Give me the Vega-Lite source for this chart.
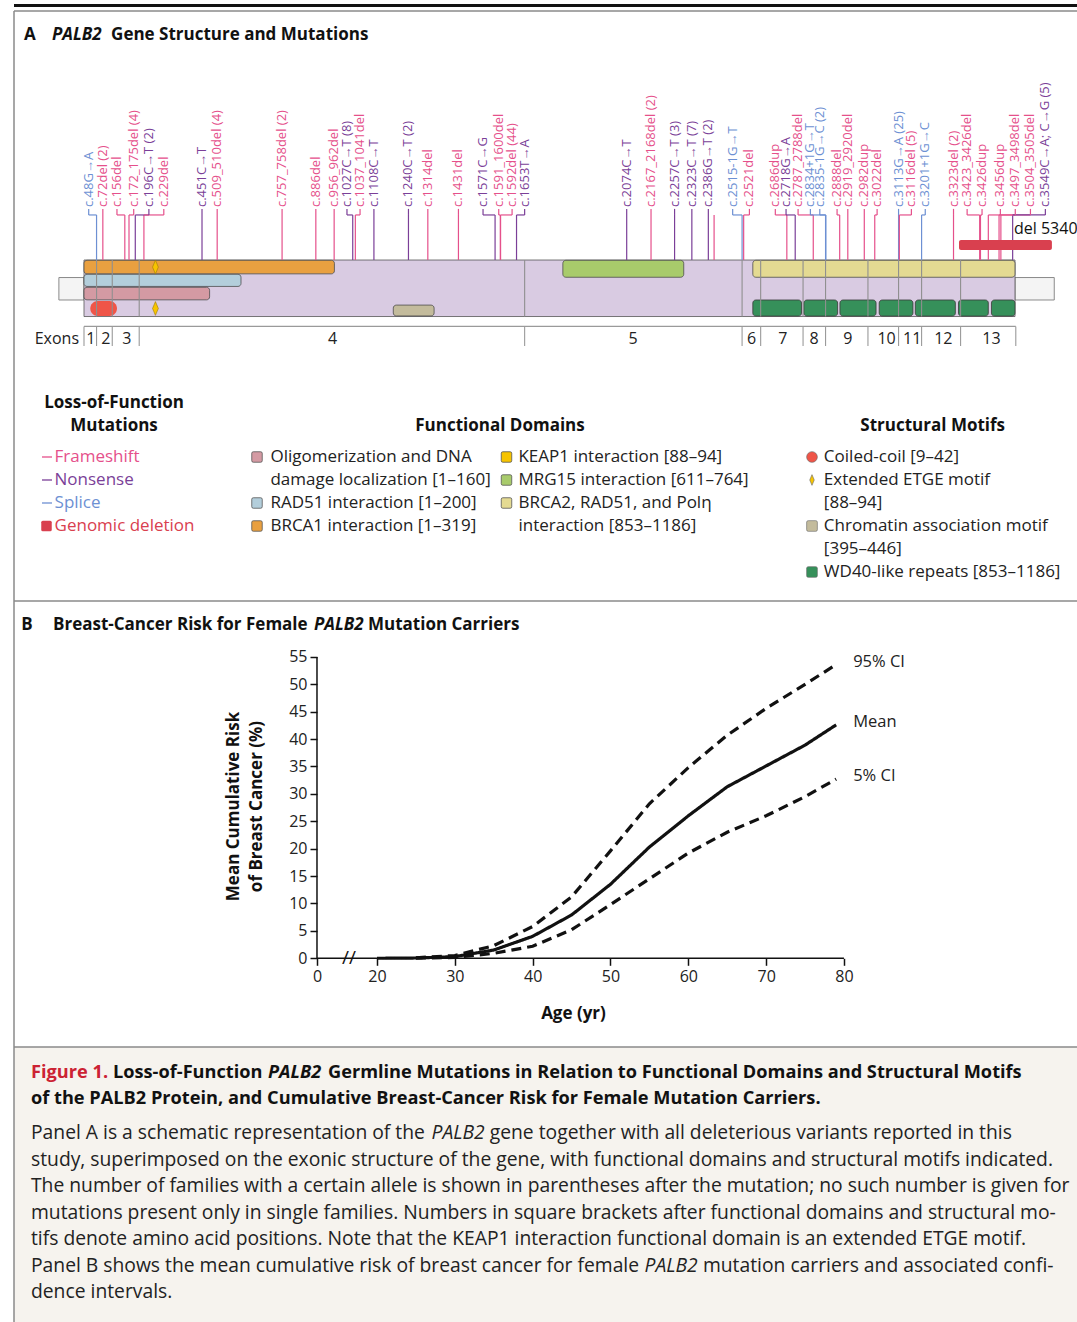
{
"$schema": "https://vega.github.io/schema/vega-lite/v6.json",
"padding": {"left": 12, "top": 0, "right": 0, "bottom": 0},
"background": "white",
"spacing": 0,
"bounds": "flush",
"config": {"font": "Open Sans", "view": {"stroke": null}},
"datasets": {
 "domains": [
  {"name":"BRCA1","start":0,"end":319,"track":"t1"},
  {"name":"RAD51","start":0,"end":200,"track":"t2"},
  {"name":"Oligomerization","start":0,"end":160,"track":"t3"},
  {"name":"MRG15","start":610,"end":764,"track":"top"},
  {"name":"BRCA2","start":852,"end":1186,"track":"top"},
  {"name":"Coiled-coil","start":8,"end":42,"track":"coil"},
  {"name":"Chromatin","start":394,"end":446,"track":"chrom"},
  {"name":"WD40","start":852,"end":914,"track":"wd40"},
  {"name":"WD40","start":917,"end":960,"track":"wd40"},
  {"name":"WD40","start":963,"end":1009,"track":"wd40"},
  {"name":"WD40","start":1013,"end":1056,"track":"wd40"},
  {"name":"WD40","start":1059,"end":1110,"track":"wd40"},
  {"name":"WD40","start":1114,"end":1152,"track":"wd40"},
  {"name":"WD40","start":1156,"end":1186,"track":"wd40"}
 ],
 "exonBounds": [{"c":0},{"c":48},{"c":108},{"c":211},{"c":1684},{"c":2515},{"c":2586},{"c":2748},{"c":2834},{"c":2996},{"c":3113},{"c":3201},{"c":3350},{"c":3561}],
 "exonLabels": [{"exon":"1","lab":26},{"exon":"2","lab":83},{"exon":"3","lab":164},{"exon":"4","lab":950},{"exon":"5","lab":2098},{"exon":"6","lab":2551},{"exon":"7","lab":2671},{"exon":"8","lab":2790},{"exon":"9","lab":2919},{"exon":"10","lab":3067},{"exon":"11","lab":3165},{"exon":"12","lab":3284},{"exon":"13","lab":3468}],
 "muts": [
  {"c":48,"lab":18,"label":"c.48G→A","type":"Splice"},
  {"c":72,"lab":72,"label":"c.72del (2)","type":"Frameshift"},
  {"c":156,"lab":126,"label":"c.156del","type":"Frameshift"},
  {"c":172,"lab":190,"label":"c.172_175del (4)","type":"Frameshift"},
  {"c":196,"lab":248,"label":"c.196C→T (2)","type":"Nonsense"},
  {"c":229,"lab":305,"label":"c.229del","type":"Frameshift"},
  {"c":451,"lab":451,"label":"c.451C→T","type":"Nonsense"},
  {"c":509,"lab":509,"label":"c.509_510del (4)","type":"Frameshift"},
  {"c":757,"lab":757,"label":"c.757_758del (2)","type":"Frameshift"},
  {"c":886,"lab":886,"label":"c.886del","type":"Frameshift"},
  {"c":956,"lab":956,"label":"c.956_962del","type":"Frameshift"},
  {"c":1027,"lab":1005,"label":"c.1027C→T (8)","type":"Nonsense"},
  {"c":1037,"lab":1055,"label":"c.1037_1041del","type":"Frameshift"},
  {"c":1108,"lab":1108,"label":"c.1108C→T","type":"Nonsense"},
  {"c":1240,"lab":1240,"label":"c.1240C→T (2)","type":"Nonsense"},
  {"c":1314,"lab":1314,"label":"c.1314del","type":"Frameshift"},
  {"c":1431,"lab":1431,"label":"c.1431del","type":"Frameshift"},
  {"c":1571,"lab":1525,"label":"c.1571C→G","type":"Nonsense"},
  {"c":1591,"lab":1585,"label":"c.1591_1600del","type":"Frameshift"},
  {"c":1592,"lab":1636,"label":"c.1592del (44)","type":"Frameshift"},
  {"c":1653,"lab":1684,"label":"c.1653T→A","type":"Nonsense"},
  {"c":2074,"lab":2074,"label":"c.2074C→T","type":"Nonsense"},
  {"c":2167,"lab":2167,"label":"c.2167_2168del (2)","type":"Frameshift"},
  {"c":2257,"lab":2257,"label":"c.2257C→T (3)","type":"Nonsense"},
  {"c":2323,"lab":2323,"label":"c.2323C→T (7)","type":"Nonsense"},
  {"c":2386,"lab":2386,"label":"c.2386G→T (2)","type":"Nonsense"},
  {"c":2408,"lab":2408,"label":"","type":"Frameshift"},
  {"c":2515,"lab":2479,"label":"c.2515-1G→T","type":"Splice"},
  {"c":2521,"lab":2543,"label":"c.2521del","type":"Frameshift"},
  {"c":2686,"lab":2642,"label":"c.2686dup","type":"Frameshift"},
  {"c":2718,"lab":2683,"label":"c.2718G→A","type":"Nonsense"},
  {"c":2787,"lab":2729,"label":"c.2787_2788del","type":"Frameshift"},
  {"c":2834,"lab":2776,"label":"c.2834+1G→T","type":"Splice"},
  {"c":2835,"lab":2812,"label":"c.2835-1G→C (2)","type":"Splice"},
  {"c":2888,"lab":2878,"label":"c.2888del","type":"Frameshift"},
  {"c":2919,"lab":2919,"label":"c.2919_2920del","type":"Frameshift"},
  {"c":2982,"lab":2982,"label":"c.2982dup","type":"Frameshift"},
  {"c":3022,"lab":3031,"label":"c.3022del","type":"Frameshift"},
  {"c":3113,"lab":3113,"label":"c.3113G→A (25)","type":"Splice"},
  {"c":3116,"lab":3162,"label":"c.3116del (5)","type":"Frameshift"},
  {"c":3201,"lab":3215,"label":"c.3201+1G→C","type":"Splice"},
  {"c":3323,"lab":3323,"label":"c.3323del (2)","type":"Frameshift"},
  {"c":3423,"lab":3375,"label":"c.3423_3426del","type":"Frameshift"},
  {"c":3426,"lab":3432,"label":"c.3426dup","type":"Frameshift"},
  {"c":3456,"lab":3502,"label":"c.3456dup","type":"Frameshift"},
  {"c":3497,"lab":3559,"label":"c.3497_3498del","type":"Frameshift"},
  {"c":3504,"lab":3617,"label":"c.3504_3505del","type":"Frameshift"},
  {"c":3549,"lab":3674,"label":"c.3549C→A; C→G (5)","type":"Nonsense"}
 ],
 "legend": [
  {"g":"hlof","line":-2,"text":"Loss-of-Function"},
  {"g":"hlof","line":-1,"text":"Mutations"},
  {"g":"hfd","line":-1,"text":"Functional Domains"},
  {"g":"hsm","line":-1,"text":"Structural Motifs"},
  {"g":"lof","line":0,"text":"Frameshift","item":"Frameshift"},
  {"g":"lof","line":1,"text":"Nonsense","item":"Nonsense"},
  {"g":"lof","line":2,"text":"Splice","item":"Splice"},
  {"g":"lof","line":3,"text":"Genomic deletion","item":"Genomic deletion"},
  {"g":"fd1","line":0,"text":"Oligomerization and DNA","item":"Oligomerization"},
  {"g":"fd1","line":1,"text":"damage localization [1–160]"},
  {"g":"fd1","line":2,"text":"RAD51 interaction [1–200]","item":"RAD51"},
  {"g":"fd1","line":3,"text":"BRCA1 interaction [1–319]","item":"BRCA1"},
  {"g":"fd2","line":0,"text":"KEAP1 interaction [88–94]","item":"KEAP1"},
  {"g":"fd2","line":1,"text":"MRG15 interaction [611–764]","item":"MRG15"},
  {"g":"fd2","line":2,"text":"BRCA2, RAD51, and Polη","item":"BRCA2"},
  {"g":"fd2","line":3,"text":"interaction  [853–1186]"},
  {"g":"sm","line":0,"text":"Coiled-coil [9–42]","item":"Coiled-coil"},
  {"g":"sm","line":1,"text":"Extended ETGE motif","item":"ETGE"},
  {"g":"sm","line":2,"text":"[88–94]"},
  {"g":"sm","line":3,"text":"Chromatin association motif","item":"Chromatin"},
  {"g":"sm","line":4,"text":"[395–446]"},
  {"g":"sm","line":5,"text":"WD40-like repeats [853–1186]","item":"WD40"}
 ],
 "risk": [
  {"age":20,"value":0,"series":"Mean"},{"age":25,"value":0.05,"series":"Mean"},{"age":30,"value":0.3,"series":"Mean"},{"age":35,"value":1.5,"series":"Mean"},{"age":40,"value":4.0,"series":"Mean"},{"age":45,"value":7.9,"series":"Mean"},{"age":50,"value":13.5,"series":"Mean"},{"age":55,"value":20.3,"series":"Mean"},{"age":60,"value":26.0,"series":"Mean"},{"age":65,"value":31.3,"series":"Mean"},{"age":70,"value":35.1,"series":"Mean"},{"age":75,"value":38.9,"series":"Mean"},{"age":79,"value":42.6,"series":"Mean"},
  {"age":25,"value":0.1,"series":"95% CI"},{"age":30,"value":0.5,"series":"95% CI"},{"age":35,"value":2.3,"series":"95% CI"},{"age":40,"value":5.8,"series":"95% CI"},{"age":45,"value":11.2,"series":"95% CI"},{"age":50,"value":19.6,"series":"95% CI"},{"age":55,"value":28.2,"series":"95% CI"},{"age":60,"value":34.8,"series":"95% CI"},{"age":65,"value":40.7,"series":"95% CI"},{"age":70,"value":45.6,"series":"95% CI"},{"age":75,"value":50.0,"series":"95% CI"},{"age":79,"value":53.6,"series":"95% CI"},
  {"age":25,"value":0.02,"series":"5% CI"},{"age":30,"value":0.15,"series":"5% CI"},{"age":35,"value":0.9,"series":"5% CI"},{"age":40,"value":2.2,"series":"5% CI"},{"age":45,"value":5.2,"series":"5% CI"},{"age":50,"value":9.8,"series":"5% CI"},{"age":55,"value":14.5,"series":"5% CI"},{"age":60,"value":19.2,"series":"5% CI"},{"age":65,"value":23.0,"series":"5% CI"},{"age":70,"value":26.0,"series":"5% CI"},{"age":75,"value":29.5,"series":"5% CI"},{"age":79,"value":32.7,"series":"5% CI"}
 ],
 "caption": [
  {"n":2,"part":"a","text":"Panel A is a schematic representation of the"},
  {"n":2,"part":"b","text":"PALB2"},
  {"n":2,"part":"c","text":"gene together with all deleterious variants reported in this"},
  {"n":3,"part":"a","text":"study, superimposed on the exonic structure of the gene, with functional domains and structural motifs indicated."},
  {"n":4,"part":"a","text":"The number of families with a certain allele is shown in parentheses after the mutation; no such number is given for"},
  {"n":5,"part":"a","text":"mutations present only in single families. Numbers in square brackets after functional domains and structural mo-"},
  {"n":6,"part":"a","text":"tifs denote amino acid positions. Note that the KEAP1 interaction functional domain is an extended ETGE motif."},
  {"n":7,"part":"a","text":"Panel B shows the mean cumulative risk of breast cancer for female"},
  {"n":7,"part":"b","text":"PALB2"},
  {"n":7,"part":"c","text":"mutation carriers and associated confi-"},
  {"n":8,"part":"a","text":"dence intervals."}
 ]
},
"vconcat": [
 {"width":1065,"height":11,"data":{"values":[{}]},"mark":{"type":"rule","color":"#111","strokeWidth":3},"encoding":{"y":{"datum":0.5,"type":"quantitative","scale":{"domain":[0,1],"nice":false,"zero":false},"axis":null}}},
 {"width":1065,"height":590,
  "resolve":{"scale":{"x":"independent","y":"independent"}},
  "layer":[
   {"layer":[
    {"data":{"values":[{}]},"mark":{"type":"rule","color":"#8a8a8a","strokeWidth":1.5},"encoding":{"x":{"datum":-89.17,"type":"quantitative","scale":{"domain":[-89.17,1267.52],"nice":false,"zero":false},"axis":null}}},
    {"data":{"values":[{}]},"mark":{"type":"rule","color":"#8a8a8a","strokeWidth":1.5},"encoding":{"y":{"datum":21.63,"type":"quantitative","scale":{"domain":[-20.14,21.63],"nice":false,"zero":false},"axis":null}}},
    {"data":{"values":[{"start":-32,"end":0},{"start":1186,"end":1236}]},"mark":{"type":"rect","fill":"#f4f4f4","stroke":"#8a8a8a","strokeWidth":1},"encoding":{"x":{"field":"start","type":"quantitative","scale":{"domain":[-89.17,1267.52],"nice":false,"zero":false},"axis":null},"x2":{"field":"end"},"y":{"datum":1.17,"type":"quantitative","scale":{"domain":[-20.14,21.63],"nice":false,"zero":false},"axis":null},"y2":{"datum":2.76}}},
    {"data":{"values":[{"start":0,"end":1186}]},"mark":{"type":"rect","fill":"#d9cbe2","stroke":"#555","strokeWidth":0.8},"encoding":{"x":{"field":"start","type":"quantitative","scale":{"domain":[-89.17,1267.52],"nice":false,"zero":false},"axis":null},"x2":{"field":"end"},"y":{"datum":0,"type":"quantitative","scale":{"domain":[-20.14,21.63],"nice":false,"zero":false},"axis":null},"y2":{"datum":4}}},
    {"data":{"name":"domains"},"transform":[{"filter":"datum.track == 'top'"}],"mark":{"type":"rect","stroke":"#4d4d4d","strokeWidth":0.8,"cornerRadius":3},"encoding":{"x":{"field":"start","type":"quantitative","scale":{"domain":[-89.17,1267.52],"nice":false,"zero":false},"axis":null},"x2":{"field":"end"},"y":{"datum":2.78,"type":"quantitative","scale":{"domain":[-20.14,21.63],"nice":false,"zero":false},"axis":null},"y2":{"datum":3.98},"color":{"field":"name","type":"nominal","scale":{"domain":["Frameshift","Nonsense","Splice","Genomic deletion","Oligomerization","RAD51","BRCA1","KEAP1","MRG15","BRCA2","Coiled-coil","ETGE","Chromatin","WD40"],"range":["#e5508b","#7b3f98","#6d90d3","#d9404f","#d49aa3","#b3cedb","#e9a040","#f7c400","#a8cb6b","#e4da92","#ef5548","#f7c400","#c3bb9c","#36905a"]},"legend":null}}},
    {"data":{"name":"domains"},"transform":[{"filter":"datum.track == 't1'"}],"mark":{"type":"rect","stroke":"#4d4d4d","strokeWidth":0.8,"cornerRadius":3},"encoding":{"x":{"field":"start","type":"quantitative","scale":{"domain":[-89.17,1267.52],"nice":false,"zero":false},"axis":null},"x2":{"field":"end"},"y":{"datum":3.02,"type":"quantitative","scale":{"domain":[-20.14,21.63],"nice":false,"zero":false},"axis":null},"y2":{"datum":3.98},"color":{"field":"name","type":"nominal","scale":{"domain":["Frameshift","Nonsense","Splice","Genomic deletion","Oligomerization","RAD51","BRCA1","KEAP1","MRG15","BRCA2","Coiled-coil","ETGE","Chromatin","WD40"],"range":["#e5508b","#7b3f98","#6d90d3","#d9404f","#d49aa3","#b3cedb","#e9a040","#f7c400","#a8cb6b","#e4da92","#ef5548","#f7c400","#c3bb9c","#36905a"]},"legend":null}}},
    {"data":{"name":"domains"},"transform":[{"filter":"datum.track == 't2'"}],"mark":{"type":"rect","stroke":"#4d4d4d","strokeWidth":0.8,"cornerRadius":3},"encoding":{"x":{"field":"start","type":"quantitative","scale":{"domain":[-89.17,1267.52],"nice":false,"zero":false},"axis":null},"x2":{"field":"end"},"y":{"datum":2.13,"type":"quantitative","scale":{"domain":[-20.14,21.63],"nice":false,"zero":false},"axis":null},"y2":{"datum":2.99},"color":{"field":"name","type":"nominal","scale":{"domain":["Frameshift","Nonsense","Splice","Genomic deletion","Oligomerization","RAD51","BRCA1","KEAP1","MRG15","BRCA2","Coiled-coil","ETGE","Chromatin","WD40"],"range":["#e5508b","#7b3f98","#6d90d3","#d9404f","#d49aa3","#b3cedb","#e9a040","#f7c400","#a8cb6b","#e4da92","#ef5548","#f7c400","#c3bb9c","#36905a"]},"legend":null}}},
    {"data":{"name":"domains"},"transform":[{"filter":"datum.track == 't3'"}],"mark":{"type":"rect","stroke":"#4d4d4d","strokeWidth":0.8,"cornerRadius":3},"encoding":{"x":{"field":"start","type":"quantitative","scale":{"domain":[-89.17,1267.52],"nice":false,"zero":false},"axis":null},"x2":{"field":"end"},"y":{"datum":1.18,"type":"quantitative","scale":{"domain":[-20.14,21.63],"nice":false,"zero":false},"axis":null},"y2":{"datum":2.07},"color":{"field":"name","type":"nominal","scale":{"domain":["Frameshift","Nonsense","Splice","Genomic deletion","Oligomerization","RAD51","BRCA1","KEAP1","MRG15","BRCA2","Coiled-coil","ETGE","Chromatin","WD40"],"range":["#e5508b","#7b3f98","#6d90d3","#d9404f","#d49aa3","#b3cedb","#e9a040","#f7c400","#a8cb6b","#e4da92","#ef5548","#f7c400","#c3bb9c","#36905a"]},"legend":null}}},
    {"data":{"name":"domains"},"transform":[{"filter":"datum.track == 'chrom'"}],"mark":{"type":"rect","stroke":"#4d4d4d","strokeWidth":0.8,"cornerRadius":3},"encoding":{"x":{"field":"start","type":"quantitative","scale":{"domain":[-89.17,1267.52],"nice":false,"zero":false},"axis":null},"x2":{"field":"end"},"y":{"datum":0.04,"type":"quantitative","scale":{"domain":[-20.14,21.63],"nice":false,"zero":false},"axis":null},"y2":{"datum":0.81},"color":{"field":"name","type":"nominal","scale":{"domain":["Frameshift","Nonsense","Splice","Genomic deletion","Oligomerization","RAD51","BRCA1","KEAP1","MRG15","BRCA2","Coiled-coil","ETGE","Chromatin","WD40"],"range":["#e5508b","#7b3f98","#6d90d3","#d9404f","#d49aa3","#b3cedb","#e9a040","#f7c400","#a8cb6b","#e4da92","#ef5548","#f7c400","#c3bb9c","#36905a"]},"legend":null}}},
    {"data":{"name":"domains"},"transform":[{"filter":"datum.track == 'wd40'"}],"mark":{"type":"rect","stroke":"#3a3a3a","strokeWidth":0.8,"cornerRadius":3},"encoding":{"x":{"field":"start","type":"quantitative","scale":{"domain":[-89.17,1267.52],"nice":false,"zero":false},"axis":null},"x2":{"field":"end"},"y":{"datum":0.03,"type":"quantitative","scale":{"domain":[-20.14,21.63],"nice":false,"zero":false},"axis":null},"y2":{"datum":1.17},"color":{"field":"name","type":"nominal","scale":{"domain":["Frameshift","Nonsense","Splice","Genomic deletion","Oligomerization","RAD51","BRCA1","KEAP1","MRG15","BRCA2","Coiled-coil","ETGE","Chromatin","WD40"],"range":["#e5508b","#7b3f98","#6d90d3","#d9404f","#d49aa3","#b3cedb","#e9a040","#f7c400","#a8cb6b","#e4da92","#ef5548","#f7c400","#c3bb9c","#36905a"]},"legend":null}}},
    {"data":{"name":"domains"},"transform":[{"filter":"datum.track == 'coil'"}],"mark":{"type":"rect","cornerRadius":7.5},"encoding":{"x":{"field":"start","type":"quantitative","scale":{"domain":[-89.17,1267.52],"nice":false,"zero":false},"axis":null},"x2":{"field":"end"},"y":{"datum":0.04,"type":"quantitative","scale":{"domain":[-20.14,21.63],"nice":false,"zero":false},"axis":null},"y2":{"datum":1.1},"color":{"field":"name","type":"nominal","scale":{"domain":["Frameshift","Nonsense","Splice","Genomic deletion","Oligomerization","RAD51","BRCA1","KEAP1","MRG15","BRCA2","Coiled-coil","ETGE","Chromatin","WD40"],"range":["#e5508b","#7b3f98","#6d90d3","#d9404f","#d49aa3","#b3cedb","#e9a040","#f7c400","#a8cb6b","#e4da92","#ef5548","#f7c400","#c3bb9c","#36905a"]},"legend":null}}},
    {"data":{"values":[{"start":91,"name":"ETGE"}]},"mark":{"type":"point","shape":"M0,-1L0.42,0L0,1L-0.42,0Z","filled":true,"size":190,"stroke":"#a07c00","strokeWidth":0.6,"opacity":1},"encoding":{"x":{"field":"start","type":"quantitative","scale":{"domain":[-89.17,1267.52],"nice":false,"zero":false},"axis":null},"y":{"datum":3.5,"type":"quantitative","scale":{"domain":[-20.14,21.63],"nice":false,"zero":false},"axis":null},"color":{"field":"name","type":"nominal","scale":{"domain":["Frameshift","Nonsense","Splice","Genomic deletion","Oligomerization","RAD51","BRCA1","KEAP1","MRG15","BRCA2","Coiled-coil","ETGE","Chromatin","WD40"],"range":["#e5508b","#7b3f98","#6d90d3","#d9404f","#d49aa3","#b3cedb","#e9a040","#f7c400","#a8cb6b","#e4da92","#ef5548","#f7c400","#c3bb9c","#36905a"]},"legend":null}}},
    {"data":{"values":[{"start":91,"name":"ETGE"}]},"mark":{"type":"point","shape":"M0,-1L0.42,0L0,1L-0.42,0Z","filled":true,"size":190,"stroke":"#a07c00","strokeWidth":0.6,"opacity":1},"encoding":{"x":{"field":"start","type":"quantitative","scale":{"domain":[-89.17,1267.52],"nice":false,"zero":false},"axis":null},"y":{"datum":0.57,"type":"quantitative","scale":{"domain":[-20.14,21.63],"nice":false,"zero":false},"axis":null},"color":{"field":"name","type":"nominal","scale":{"domain":["Frameshift","Nonsense","Splice","Genomic deletion","Oligomerization","RAD51","BRCA1","KEAP1","MRG15","BRCA2","Coiled-coil","ETGE","Chromatin","WD40"],"range":["#e5508b","#7b3f98","#6d90d3","#d9404f","#d49aa3","#b3cedb","#e9a040","#f7c400","#a8cb6b","#e4da92","#ef5548","#f7c400","#c3bb9c","#36905a"]},"legend":null}}},
    {"data":{"values":[{}]},"mark":{"type":"text","text":"A","fontSize":17,"fontWeight":"bold","align":"left","baseline":"middle","color":"#111"},"encoding":{"x":{"datum":-76.4,"type":"quantitative","scale":{"domain":[-89.17,1267.52],"nice":false,"zero":false},"axis":null},"y":{"datum":19.93,"type":"quantitative","scale":{"domain":[-20.14,21.63],"nice":false,"zero":false},"axis":null}}},
    {"data":{"values":[{}]},"mark":{"type":"text","text":"PALB2","fontSize":17,"fontWeight":"bold","fontStyle":"italic","align":"left","baseline":"middle","color":"#111"},"encoding":{"x":{"datum":-40.8,"type":"quantitative","scale":{"domain":[-89.17,1267.52],"nice":false,"zero":false},"axis":null},"y":{"datum":19.93,"type":"quantitative","scale":{"domain":[-20.14,21.63],"nice":false,"zero":false},"axis":null}}},
    {"data":{"values":[{}]},"mark":{"type":"text","text":"Gene Structure and Mutations","fontSize":17,"fontWeight":"bold","align":"left","baseline":"middle","color":"#111"},"encoding":{"x":{"datum":34.5,"type":"quantitative","scale":{"domain":[-89.17,1267.52],"nice":false,"zero":false},"axis":null},"y":{"datum":19.93,"type":"quantitative","scale":{"domain":[-20.14,21.63],"nice":false,"zero":false},"axis":null}}}
   ]},
   {"layer":[
    {"data":{"name":"exonBounds"},"transform":[{"filter":"datum.c > 0 && datum.c < 3561"}],"mark":{"type":"rule","color":"#8f8f8f","strokeWidth":1.1},"encoding":{"x":{"field":"c","type":"quantitative","scale":{"domain":[-267.5,3802.55],"nice":false,"zero":false},"axis":null},"y":{"datum":0,"type":"quantitative","scale":{"domain":[-20.14,21.63],"nice":false,"zero":false},"axis":null},"y2":{"datum":4}}},
    {"data":{"values":[{"a":0,"b":3561}]},"mark":{"type":"rule","color":"#9a9a9a","strokeWidth":1.1},"encoding":{"x":{"field":"a","type":"quantitative","scale":{"domain":[-267.5,3802.55],"nice":false,"zero":false},"axis":null},"x2":{"field":"b"},"y":{"datum":-0.7,"type":"quantitative","scale":{"domain":[-20.14,21.63],"nice":false,"zero":false},"axis":null}}},
    {"data":{"name":"exonBounds"},"mark":{"type":"rule","color":"#9a9a9a","strokeWidth":1.1},"encoding":{"x":{"field":"c","type":"quantitative","scale":{"domain":[-267.5,3802.55],"nice":false,"zero":false},"axis":null},"y":{"datum":-0.7,"type":"quantitative","scale":{"domain":[-20.14,21.63],"nice":false,"zero":false},"axis":null},"y2":{"datum":-2.09}}},
    {"data":{"name":"exonLabels"},"mark":{"type":"text","fontSize":16,"color":"#222","baseline":"middle","align":"center"},"encoding":{"x":{"field":"lab","type":"quantitative","scale":{"domain":[-267.5,3802.55],"nice":false,"zero":false},"axis":null},"y":{"datum":-1.58,"type":"quantitative","scale":{"domain":[-20.14,21.63],"nice":false,"zero":false},"axis":null},"text":{"field":"exon"}}},
    {"data":{"values":[{}]},"mark":{"type":"text","text":"Exons","fontSize":16,"color":"#222","baseline":"middle","align":"right"},"encoding":{"x":{"datum":-19,"type":"quantitative","scale":{"domain":[-267.5,3802.55],"nice":false,"zero":false},"axis":null},"y":{"datum":-1.58,"type":"quantitative","scale":{"domain":[-20.14,21.63],"nice":false,"zero":false},"axis":null}}},
    {"data":{"name":"muts"},"mark":{"type":"rule","strokeWidth":1.2},"encoding":{"x":{"field":"c","type":"quantitative","scale":{"domain":[-267.5,3802.55],"nice":false,"zero":false},"axis":null},"y":{"datum":4,"type":"quantitative","scale":{"domain":[-20.14,21.63],"nice":false,"zero":false},"axis":null},"y2":{"datum":7.19},"color":{"field":"type","type":"nominal","scale":{"domain":["Frameshift","Nonsense","Splice","Genomic deletion","Oligomerization","RAD51","BRCA1","KEAP1","MRG15","BRCA2","Coiled-coil","ETGE","Chromatin","WD40"],"range":["#e5508b","#7b3f98","#6d90d3","#d9404f","#d49aa3","#b3cedb","#e9a040","#f7c400","#a8cb6b","#e4da92","#ef5548","#f7c400","#c3bb9c","#36905a"]},"legend":null}}},
    {"data":{"name":"muts"},"mark":{"type":"rule","strokeWidth":1.2},"encoding":{"x":{"field":"c","type":"quantitative","scale":{"domain":[-267.5,3802.55],"nice":false,"zero":false},"axis":null},"x2":{"field":"lab"},"y":{"datum":7.19,"type":"quantitative","scale":{"domain":[-20.14,21.63],"nice":false,"zero":false},"axis":null},"color":{"field":"type","type":"nominal","scale":{"domain":["Frameshift","Nonsense","Splice","Genomic deletion","Oligomerization","RAD51","BRCA1","KEAP1","MRG15","BRCA2","Coiled-coil","ETGE","Chromatin","WD40"],"range":["#e5508b","#7b3f98","#6d90d3","#d9404f","#d49aa3","#b3cedb","#e9a040","#f7c400","#a8cb6b","#e4da92","#ef5548","#f7c400","#c3bb9c","#36905a"]},"legend":null}}},
    {"data":{"name":"muts"},"transform":[{"filter":"datum.label != ''"}],"mark":{"type":"rule","strokeWidth":1.2},"encoding":{"x":{"field":"lab","type":"quantitative","scale":{"domain":[-267.5,3802.55],"nice":false,"zero":false},"axis":null},"y":{"datum":7.19,"type":"quantitative","scale":{"domain":[-20.14,21.63],"nice":false,"zero":false},"axis":null},"y2":{"datum":7.62},"color":{"field":"type","type":"nominal","scale":{"domain":["Frameshift","Nonsense","Splice","Genomic deletion","Oligomerization","RAD51","BRCA1","KEAP1","MRG15","BRCA2","Coiled-coil","ETGE","Chromatin","WD40"],"range":["#e5508b","#7b3f98","#6d90d3","#d9404f","#d49aa3","#b3cedb","#e9a040","#f7c400","#a8cb6b","#e4da92","#ef5548","#f7c400","#c3bb9c","#36905a"]},"legend":null}}},
    {"data":{"name":"muts"},"transform":[{"filter":"datum.label != ''"}],"mark":{"type":"text","angle":270,"align":"left","baseline":"middle","fontSize":13},"encoding":{"x":{"field":"lab","type":"quantitative","scale":{"domain":[-267.5,3802.55],"nice":false,"zero":false},"axis":null},"y":{"datum":7.75,"type":"quantitative","scale":{"domain":[-20.14,21.63],"nice":false,"zero":false},"axis":null},"text":{"field":"label"},"color":{"field":"type","type":"nominal","scale":{"domain":["Frameshift","Nonsense","Splice","Genomic deletion","Oligomerization","RAD51","BRCA1","KEAP1","MRG15","BRCA2","Coiled-coil","ETGE","Chromatin","WD40"],"range":["#e5508b","#7b3f98","#6d90d3","#d9404f","#d49aa3","#b3cedb","#e9a040","#f7c400","#a8cb6b","#e4da92","#ef5548","#f7c400","#c3bb9c","#36905a"]},"legend":null}}},
    {"data":{"values":[{"start":3344,"end":3699,"type":"Genomic deletion"}]},"mark":{"type":"rect","cornerRadius":2},"encoding":{"x":{"field":"start","type":"quantitative","scale":{"domain":[-267.5,3802.55],"nice":false,"zero":false},"axis":null},"x2":{"field":"end"},"y":{"datum":4.71,"type":"quantitative","scale":{"domain":[-20.14,21.63],"nice":false,"zero":false},"axis":null},"y2":{"datum":5.42},"color":{"field":"type","type":"nominal","scale":{"domain":["Frameshift","Nonsense","Splice","Genomic deletion","Oligomerization","RAD51","BRCA1","KEAP1","MRG15","BRCA2","Coiled-coil","ETGE","Chromatin","WD40"],"range":["#e5508b","#7b3f98","#6d90d3","#d9404f","#d49aa3","#b3cedb","#e9a040","#f7c400","#a8cb6b","#e4da92","#ef5548","#f7c400","#c3bb9c","#36905a"]},"legend":null}}},
    {"data":{"values":[{}]},"mark":{"type":"text","text":"del 5340","fontSize":16,"align":"left","baseline":"middle","color":"#111"},"encoding":{"x":{"datum":3554,"type":"quantitative","scale":{"domain":[-267.5,3802.55],"nice":false,"zero":false},"axis":null},"y":{"datum":6.2,"type":"quantitative","scale":{"domain":[-20.14,21.63],"nice":false,"zero":false},"axis":null}}}
   ]},
   {"data":{"name":"legend"},
    "layer":[
    {"transform":[{"filter":"datum.g == 'hlof'"}],"mark":{"type":"text","fontSize":17,"fontWeight":"bold","align":"center","baseline":"middle","dy":-8,"color":"#111"},"encoding":{"x":{"datum":38.22,"type":"quantitative","scale":{"domain":[-89.17,1267.52],"nice":false,"zero":false},"axis":null},"y":{"field":"line","type":"quantitative","scale":{"domain":[-19.391,6.261],"nice":false,"zero":false,"reverse":true},"axis":null},"text":{"field":"text"}}},
    {"transform":[{"filter":"datum.g == 'hfd'"}],"mark":{"type":"text","fontSize":17,"fontWeight":"bold","align":"center","baseline":"middle","dy":-8,"color":"#111"},"encoding":{"x":{"datum":529.94,"type":"quantitative","scale":{"domain":[-89.17,1267.52],"nice":false,"zero":false},"axis":null},"y":{"field":"line","type":"quantitative","scale":{"domain":[-19.391,6.261],"nice":false,"zero":false,"reverse":true},"axis":null},"text":{"field":"text"}}},
    {"transform":[{"filter":"datum.g == 'hsm'"}],"mark":{"type":"text","fontSize":17,"fontWeight":"bold","align":"center","baseline":"middle","dy":-8,"color":"#111"},"encoding":{"x":{"datum":1081.15,"type":"quantitative","scale":{"domain":[-89.17,1267.52],"nice":false,"zero":false},"axis":null},"y":{"field":"line","type":"quantitative","scale":{"domain":[-19.391,6.261],"nice":false,"zero":false,"reverse":true},"axis":null},"text":{"field":"text"}}},
    {"transform":[{"filter":"datum.g == 'lof'"}],"mark":{"type":"text","fontSize":17,"align":"left","baseline":"middle"},"encoding":{"x":{"datum":-37.5,"type":"quantitative","scale":{"domain":[-89.17,1267.52],"nice":false,"zero":false},"axis":null},"y":{"field":"line","type":"quantitative","scale":{"domain":[-19.391,6.261],"nice":false,"zero":false,"reverse":true},"axis":null},"text":{"field":"text"},"color":{"field":"item","type":"nominal","scale":{"domain":["Frameshift","Nonsense","Splice","Genomic deletion","Oligomerization","RAD51","BRCA1","KEAP1","MRG15","BRCA2","Coiled-coil","ETGE","Chromatin","WD40"],"range":["#e5508b","#7b3f98","#6d90d3","#d9404f","#d49aa3","#b3cedb","#e9a040","#f7c400","#a8cb6b","#e4da92","#ef5548","#f7c400","#c3bb9c","#36905a"]},"legend":null}}},
    {"transform":[{"filter":"datum.g == 'lof' && datum.item != 'Genomic deletion'"}],"mark":{"type":"point","shape":"M-1,0L1,0","filled":false,"size":100,"strokeWidth":1.3,"opacity":1},"encoding":{"x":{"datum":-47.13,"type":"quantitative","scale":{"domain":[-89.17,1267.52],"nice":false,"zero":false},"axis":null},"y":{"field":"line","type":"quantitative","scale":{"domain":[-19.391,6.261],"nice":false,"zero":false,"reverse":true},"axis":null},"color":{"field":"item","type":"nominal","scale":{"domain":["Frameshift","Nonsense","Splice","Genomic deletion","Oligomerization","RAD51","BRCA1","KEAP1","MRG15","BRCA2","Coiled-coil","ETGE","Chromatin","WD40"],"range":["#e5508b","#7b3f98","#6d90d3","#d9404f","#d49aa3","#b3cedb","#e9a040","#f7c400","#a8cb6b","#e4da92","#ef5548","#f7c400","#c3bb9c","#36905a"]},"legend":null}}},
    {"transform":[{"filter":"datum.item == 'Genomic deletion'"}],"mark":{"type":"point","shape":"M-1,-0.7Q-1,-1,-0.7,-1L0.7,-1Q1,-1,1,-0.7L1,0.7Q1,1,0.7,1L-0.7,1Q-1,1,-1,0.7Z","filled":true,"size":110,"opacity":1},"encoding":{"x":{"datum":-47.77,"type":"quantitative","scale":{"domain":[-89.17,1267.52],"nice":false,"zero":false},"axis":null},"y":{"field":"line","type":"quantitative","scale":{"domain":[-19.391,6.261],"nice":false,"zero":false,"reverse":true},"axis":null},"color":{"field":"item","type":"nominal","scale":{"domain":["Frameshift","Nonsense","Splice","Genomic deletion","Oligomerization","RAD51","BRCA1","KEAP1","MRG15","BRCA2","Coiled-coil","ETGE","Chromatin","WD40"],"range":["#e5508b","#7b3f98","#6d90d3","#d9404f","#d49aa3","#b3cedb","#e9a040","#f7c400","#a8cb6b","#e4da92","#ef5548","#f7c400","#c3bb9c","#36905a"]},"legend":null}}},
    {"transform":[{"filter":"datum.g == 'fd1'"}],"mark":{"type":"text","fontSize":17,"align":"left","baseline":"middle","color":"#222"},"encoding":{"x":{"datum":237.5,"type":"quantitative","scale":{"domain":[-89.17,1267.52],"nice":false,"zero":false},"axis":null},"y":{"field":"line","type":"quantitative","scale":{"domain":[-19.391,6.261],"nice":false,"zero":false,"reverse":true},"axis":null},"text":{"field":"text"}}},
    {"transform":[{"filter":"datum.g == 'fd1' && isValid(datum.item)"}],"mark":{"type":"point","shape":"M-1,-0.7Q-1,-1,-0.7,-1L0.7,-1Q1,-1,1,-0.7L1,0.7Q1,1,0.7,1L-0.7,1Q-1,1,-1,0.7Z","filled":true,"size":110,"stroke":"#555","strokeWidth":0.8,"opacity":1},"encoding":{"x":{"datum":220.38,"type":"quantitative","scale":{"domain":[-89.17,1267.52],"nice":false,"zero":false},"axis":null},"y":{"field":"line","type":"quantitative","scale":{"domain":[-19.391,6.261],"nice":false,"zero":false,"reverse":true},"axis":null},"color":{"field":"item","type":"nominal","scale":{"domain":["Frameshift","Nonsense","Splice","Genomic deletion","Oligomerization","RAD51","BRCA1","KEAP1","MRG15","BRCA2","Coiled-coil","ETGE","Chromatin","WD40"],"range":["#e5508b","#7b3f98","#6d90d3","#d9404f","#d49aa3","#b3cedb","#e9a040","#f7c400","#a8cb6b","#e4da92","#ef5548","#f7c400","#c3bb9c","#36905a"]},"legend":null}}},
    {"transform":[{"filter":"datum.g == 'fd2'"}],"mark":{"type":"text","fontSize":17,"align":"left","baseline":"middle","color":"#222"},"encoding":{"x":{"datum":553.4,"type":"quantitative","scale":{"domain":[-89.17,1267.52],"nice":false,"zero":false},"axis":null},"y":{"field":"line","type":"quantitative","scale":{"domain":[-19.391,6.261],"nice":false,"zero":false,"reverse":true},"axis":null},"text":{"field":"text"}}},
    {"transform":[{"filter":"datum.g == 'fd2' && isValid(datum.item)"}],"mark":{"type":"point","shape":"M-1,-0.7Q-1,-1,-0.7,-1L0.7,-1Q1,-1,1,-0.7L1,0.7Q1,1,0.7,1L-0.7,1Q-1,1,-1,0.7Z","filled":true,"size":110,"stroke":"#555","strokeWidth":0.8,"opacity":1},"encoding":{"x":{"datum":538.22,"type":"quantitative","scale":{"domain":[-89.17,1267.52],"nice":false,"zero":false},"axis":null},"y":{"field":"line","type":"quantitative","scale":{"domain":[-19.391,6.261],"nice":false,"zero":false,"reverse":true},"axis":null},"color":{"field":"item","type":"nominal","scale":{"domain":["Frameshift","Nonsense","Splice","Genomic deletion","Oligomerization","RAD51","BRCA1","KEAP1","MRG15","BRCA2","Coiled-coil","ETGE","Chromatin","WD40"],"range":["#e5508b","#7b3f98","#6d90d3","#d9404f","#d49aa3","#b3cedb","#e9a040","#f7c400","#a8cb6b","#e4da92","#ef5548","#f7c400","#c3bb9c","#36905a"]},"legend":null}}},
    {"transform":[{"filter":"datum.g == 'sm'"}],"mark":{"type":"text","fontSize":17,"align":"left","baseline":"middle","color":"#222"},"encoding":{"x":{"datum":942.5,"type":"quantitative","scale":{"domain":[-89.17,1267.52],"nice":false,"zero":false},"axis":null},"y":{"field":"line","type":"quantitative","scale":{"domain":[-19.391,6.261],"nice":false,"zero":false,"reverse":true},"axis":null},"text":{"field":"text"}}},
    {"transform":[{"filter":"datum.g == 'sm' && isValid(datum.item)"}],"mark":{"type":"point","filled":true,"size":115,"stroke":"#666","strokeWidth":0.6,"opacity":1},"encoding":{"x":{"datum":927.39,"type":"quantitative","scale":{"domain":[-89.17,1267.52],"nice":false,"zero":false},"axis":null},"y":{"field":"line","type":"quantitative","scale":{"domain":[-19.391,6.261],"nice":false,"zero":false,"reverse":true},"axis":null},"shape":{"field":"item","type":"nominal","scale":{"domain":["Coiled-coil","ETGE","Chromatin","WD40"],"range":["circle","M0,-1L0.42,0L0,1L-0.42,0Z","M-1,-0.7Q-1,-1,-0.7,-1L0.7,-1Q1,-1,1,-0.7L1,0.7Q1,1,0.7,1L-0.7,1Q-1,1,-1,0.7Z","M-1,-0.7Q-1,-1,-0.7,-1L0.7,-1Q1,-1,1,-0.7L1,0.7Q1,1,0.7,1L-0.7,1Q-1,1,-1,0.7Z"]},"legend":null},"color":{"field":"item","type":"nominal","scale":{"domain":["Frameshift","Nonsense","Splice","Genomic deletion","Oligomerization","RAD51","BRCA1","KEAP1","MRG15","BRCA2","Coiled-coil","ETGE","Chromatin","WD40"],"range":["#e5508b","#7b3f98","#6d90d3","#d9404f","#d49aa3","#b3cedb","#e9a040","#f7c400","#a8cb6b","#e4da92","#ef5548","#f7c400","#c3bb9c","#36905a"]},"legend":null}}}
   ]}
  ]},
 {"width":1065,"height":446,
  "layer":[
   {"data":{"name":"risk"},"mark":{"type":"line","strokeWidth":3.2,"color":"#111"},"encoding":{
     "x":{"field":"age","type":"quantitative","scale":{"domain":[-26.64,110.2],"nice":false,"zero":false},"axis":{"values":[12.29,20,30,40,50,60,70,80],"offset":-88.7,"domain":false,"grid":false,"labelExpr":"datum.value < 15 ? '0' : datum.label","tickSize":7,"tickWidth":1.5,"tickColor":"#111","labelFontSize":16,"labelColor":"#222","labelPadding":3,"title":"Age (yr)","titleFontSize":17,"titleFontWeight":"bold","titleColor":"#111","titleX":559,"titleY":55,"titleBaseline":"middle"}},
     "y":{"field":"value","type":"quantitative","scale":{"domain":[-16.19,65.2],"nice":false,"zero":false},"axis":{"values":[0,5,10,15,20,25,30,35,40,45,50,55],"offset":-303,"domain":false,"grid":false,"tickSize":7,"tickWidth":1.5,"tickColor":"#111","labelFontSize":16,"labelColor":"#222","labelPadding":3,"title":["Mean Cumulative Risk","of Breast Cancer (%)"],"titleFontSize":17,"titleFontWeight":"bold","titleColor":"#111","titleLineHeight":23,"titleX":-75,"titleY":205}},
     "strokeDash":{"field":"series","type":"nominal","scale":{"domain":["Mean","95% CI","5% CI"],"range":[[1,0],[10,6],[10,6]]},"legend":null}}},
   {"data":{"name":"risk"},"transform":[{"filter":"datum.age == 79"}],"mark":{"type":"text","align":"left","baseline":"middle","dx":17,"dy":-3,"fontSize":16.5,"color":"#222"},"encoding":{"x":{"field":"age","type":"quantitative"},"y":{"field":"value","type":"quantitative"},"text":{"field":"series"}}},
   {"data":{"values":[{}]},"mark":{"type":"rule","color":"#111","strokeWidth":1.5},"encoding":{"x":{"datum":12.29,"type":"quantitative"},"y":{"datum":0,"type":"quantitative"},"y2":{"datum":55}}},
   {"data":{"values":[{}]},"mark":{"type":"rule","color":"#111","strokeWidth":1.5},"encoding":{"x":{"datum":12.29,"type":"quantitative"},"x2":{"datum":80},"y":{"datum":0,"type":"quantitative"}}},
   {"data":{"values":[{}]},"mark":{"type":"text","text":"//","fontSize":19,"align":"center","baseline":"middle","color":"#111"},"encoding":{"x":{"datum":16.4,"type":"quantitative"},"y":{"datum":0,"type":"quantitative"}}},
   {"data":{"values":[{}]},"mark":{"type":"rule","color":"#8a8a8a","strokeWidth":1.5},"encoding":{"x":{"datum":-26.64,"type":"quantitative"}}},
   {"data":{"values":[{}]},"mark":{"type":"rule","color":"#8a8a8a","strokeWidth":1.5},"encoding":{"y":{"datum":65.2,"type":"quantitative"}}},
   {"data":{"values":[{}]},"mark":{"type":"text","text":"B","fontSize":17,"fontWeight":"bold","align":"left","baseline":"middle","color":"#111"},"encoding":{"x":{"datum":-25.7,"type":"quantitative"},"y":{"datum":60.82,"type":"quantitative"}}},
   {"data":{"values":[{}]},"mark":{"type":"text","text":"Breast-Cancer Risk for Female","fontSize":17,"fontWeight":"bold","align":"left","baseline":"middle","color":"#111"},"encoding":{"x":{"datum":-21.63,"type":"quantitative"},"y":{"datum":60.82,"type":"quantitative"}}},
   {"data":{"values":[{}]},"mark":{"type":"text","text":"PALB2","fontSize":17,"fontWeight":"bold","fontStyle":"italic","align":"left","baseline":"middle","color":"#111"},"encoding":{"x":{"datum":11.9,"type":"quantitative"},"y":{"datum":60.82,"type":"quantitative"}}},
   {"data":{"values":[{}]},"mark":{"type":"text","text":"Mutation Carriers","fontSize":17,"fontWeight":"bold","align":"left","baseline":"middle","color":"#111"},"encoding":{"x":{"datum":18.84,"type":"quantitative"},"y":{"datum":60.82,"type":"quantitative"}}}
  ]},
 {"width":1065,"height":275,"view":{"fill":"#f6f3ee","stroke":null},
  "layer":[
   {"data":{"values":[{}]},"mark":{"type":"rule","color":"#8a8a8a","strokeWidth":1.5},"encoding":{"x":{"datum":0,"type":"quantitative","scale":{"domain":[0,100],"nice":false,"zero":false},"axis":null}}},
   {"data":{"values":[{}]},"mark":{"type":"rule","color":"#8a8a8a","strokeWidth":1.5},"encoding":{"y":{"datum":-0.981,"type":"quantitative","scale":{"domain":[-0.981,9.396],"nice":false,"zero":false,"reverse":true},"axis":null}}},
   {"data":{"values":[{}]},"mark":{"type":"text","text":"Figure 1.","fontSize":18.2,"fontWeight":"bold","align":"left","baseline":"middle","color":"#cc2233"},"encoding":{"x":{"datum":1.596,"type":"quantitative","scale":{"domain":[0,100],"nice":false,"zero":false},"axis":null},"y":{"datum":0,"type":"quantitative","scale":{"domain":[-0.981,9.396],"nice":false,"zero":false,"reverse":true},"axis":null}}},
   {"data":{"values":[{}]},"mark":{"type":"text","text":"Loss-of-Function","fontSize":18.2,"fontWeight":"bold","align":"left","baseline":"middle","color":"#111"},"encoding":{"x":{"datum":9.296,"type":"quantitative","scale":{"domain":[0,100],"nice":false,"zero":false},"axis":null},"y":{"datum":0,"type":"quantitative","scale":{"domain":[-0.981,9.396],"nice":false,"zero":false,"reverse":true},"axis":null}}},
   {"data":{"values":[{}]},"mark":{"type":"text","text":"PALB2","fontSize":18.2,"fontWeight":"bold","fontStyle":"italic","align":"left","baseline":"middle","color":"#111"},"encoding":{"x":{"datum":23.85,"type":"quantitative","scale":{"domain":[0,100],"nice":false,"zero":false},"axis":null},"y":{"datum":0,"type":"quantitative","scale":{"domain":[-0.981,9.396],"nice":false,"zero":false,"reverse":true},"axis":null}}},
   {"data":{"values":[{}]},"mark":{"type":"text","text":"Germline Mutations in Relation to Functional Domains and Structural Motifs","fontSize":18.2,"fontWeight":"bold","align":"left","baseline":"middle","color":"#111"},"encoding":{"x":{"datum":29.48,"type":"quantitative","scale":{"domain":[0,100],"nice":false,"zero":false},"axis":null},"y":{"datum":0,"type":"quantitative","scale":{"domain":[-0.981,9.396],"nice":false,"zero":false,"reverse":true},"axis":null}}},
   {"data":{"values":[{}]},"mark":{"type":"text","text":"of the PALB2 Protein, and Cumulative Breast-Cancer Risk for Female Mutation Carriers.","fontSize":18.2,"fontWeight":"bold","align":"left","baseline":"middle","color":"#111"},"encoding":{"x":{"datum":1.596,"type":"quantitative","scale":{"domain":[0,100],"nice":false,"zero":false},"axis":null},"y":{"datum":1,"type":"quantitative","scale":{"domain":[-0.981,9.396],"nice":false,"zero":false,"reverse":true},"axis":null}}},
   {"data":{"name":"caption"},"transform":[{"filter":"datum.part == 'a'"}],"mark":{"type":"text","fontSize":19.3,"align":"left","baseline":"middle","color":"#222","dy":7,"clip":true},"encoding":{"x":{"datum":1.596,"type":"quantitative","scale":{"domain":[0,100],"nice":false,"zero":false},"axis":null},"y":{"field":"n","type":"quantitative","scale":{"domain":[-0.981,9.396],"nice":false,"zero":false,"reverse":true},"axis":null},"text":{"field":"text"}}},
   {"data":{"name":"caption"},"transform":[{"filter":"datum.part == 'b' && datum.n == 2"}],"mark":{"type":"text","fontSize":19.3,"fontStyle":"italic","align":"left","baseline":"middle","color":"#222","dy":7,"clip":true},"encoding":{"x":{"datum":39.2,"type":"quantitative","scale":{"domain":[0,100],"nice":false,"zero":false},"axis":null},"y":{"field":"n","type":"quantitative","scale":{"domain":[-0.981,9.396],"nice":false,"zero":false,"reverse":true},"axis":null},"text":{"field":"text"}}},
   {"data":{"name":"caption"},"transform":[{"filter":"datum.part == 'c' && datum.n == 2"}],"mark":{"type":"text","fontSize":19.3,"align":"left","baseline":"middle","color":"#222","dy":7,"clip":true},"encoding":{"x":{"datum":44.67,"type":"quantitative","scale":{"domain":[0,100],"nice":false,"zero":false},"axis":null},"y":{"field":"n","type":"quantitative","scale":{"domain":[-0.981,9.396],"nice":false,"zero":false,"reverse":true},"axis":null},"text":{"field":"text"}}},
   {"data":{"name":"caption"},"transform":[{"filter":"datum.part == 'b' && datum.n == 7"}],"mark":{"type":"text","fontSize":19.3,"fontStyle":"italic","align":"left","baseline":"middle","color":"#222","dy":7,"clip":true},"encoding":{"x":{"datum":59.2,"type":"quantitative","scale":{"domain":[0,100],"nice":false,"zero":false},"axis":null},"y":{"field":"n","type":"quantitative","scale":{"domain":[-0.981,9.396],"nice":false,"zero":false,"reverse":true},"axis":null},"text":{"field":"text"}}},
   {"data":{"name":"caption"},"transform":[{"filter":"datum.part == 'c' && datum.n == 7"}],"mark":{"type":"text","fontSize":19.3,"align":"left","baseline":"middle","color":"#222","dy":7,"clip":true},"encoding":{"x":{"datum":64.69,"type":"quantitative","scale":{"domain":[0,100],"nice":false,"zero":false},"axis":null},"y":{"field":"n","type":"quantitative","scale":{"domain":[-0.981,9.396],"nice":false,"zero":false,"reverse":true},"axis":null},"text":{"field":"text"}}}
  ]}
]
}
